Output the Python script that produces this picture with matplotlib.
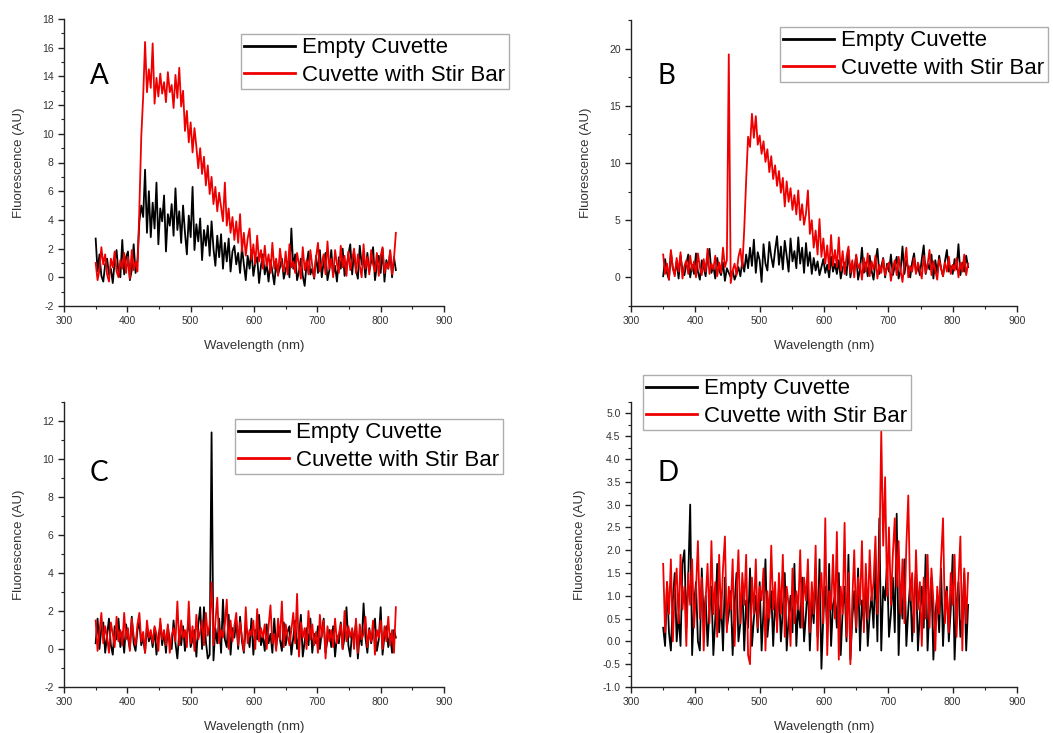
import numpy as np
import matplotlib
matplotlib.use("Agg")
import matplotlib.pyplot as plt
from matplotlib.ticker import MultipleLocator

# ---- data (3 nm spacing, 350-824 nm) ----
a_empty = [2.7, 0.4, 1.6, 0.1, -0.3, 0.9, 1.3, 0.2, 0.6, -0.4, 1.1, 1.9, 0.3, 0.0, 2.6,
           0.2, 1.4, 1.8, -0.2, 0.5, 2.3, 0.3, 1.2, 3.9, 5.0, 4.2, 7.5, 3.1, 6.0, 2.8,
           5.2, 3.4, 6.6, 2.3, 4.8, 3.9, 5.7, 1.8, 4.4, 3.6, 5.1, 2.9, 6.2, 3.3, 4.6,
           2.4, 5.0, 3.1, 1.6, 4.3, 2.8, 6.3, 1.9, 3.7, 2.5, 4.1, 1.2, 3.3, 2.2, 3.6,
           1.5, 3.9, 2.0, 0.8, 2.9, 1.4, 3.0, 0.6, 2.4, 1.1, 2.7, 0.4, 1.8, 2.2, 0.9,
           1.7, 0.3, 2.1, 0.9, -0.2, 1.5, 0.6, 1.9, 0.1, 1.0, 1.4, -0.4, 0.8, 1.6, 0.2,
           0.9, -0.3, 1.2, 0.4, -0.5, 1.0, 0.2, 0.7, 1.3, -0.1, 0.5, 1.1, 0.0, 3.4, 0.6,
           1.6, -0.2, 0.4, 1.3, 0.1, -0.6, 0.9, 1.8, 0.2, 0.6, -0.1, 1.5, 0.3, 1.9, 0.0,
           1.1, 1.7, -0.2, 0.5, 1.9, 0.2, 0.8, -0.3, 1.4, 0.6, 2.0, 0.1, 0.7, 1.6, 2.3,
           0.2, 1.8, 0.5, -0.1, 2.2, 0.9, 1.3, 0.0, 1.7, 0.4, 1.1, 2.1, -0.2, 0.8, 1.5,
           0.3, 2.0, -0.3, 1.2, 0.6, 1.8, 0.0, 1.4, 0.5]
a_stir = [1.0, -0.2, 0.5, 2.1, 0.9, 1.6, 0.2, -0.3, 1.3, 0.7, 1.8, 0.4, 0.0, 1.2, 0.6,
          1.7, 0.3, 1.4, -0.1, 1.9, 0.5, 1.1, 0.4, 4.8, 9.8, 12.6, 16.4, 12.9, 14.5, 13.2,
          16.3, 12.1, 13.9, 12.6, 14.2, 12.8, 13.6, 12.2, 14.3, 12.9, 13.4, 11.8, 14.1, 12.5, 14.6,
          11.9, 13.0, 10.2, 11.6, 9.4, 10.8, 8.7, 10.4, 9.1, 7.6, 9.0, 7.2, 8.4, 6.4, 7.8,
          5.8, 7.0, 5.1, 6.3, 4.6, 5.9, 4.9, 3.9, 6.6, 3.6, 4.8, 3.1, 4.2, 2.6, 3.9,
          2.4, 4.4, 1.8, 3.1, 1.5, 2.7, 3.4, 1.2, 2.3, 0.9, 2.9, 1.1, 1.9, 0.6, 2.2,
          0.8, 1.6, 0.3, 2.4, 0.6, 1.3, 0.1, 2.0, 0.9, 0.4, 1.8, 0.2, 2.3, 0.7, 1.1,
          0.3, 1.7, 0.9, -0.1, 2.1, 0.5, 1.2, 0.2, 1.9, 0.8, 0.0, 1.4, 2.4, 0.4, 1.0,
          1.6, 0.2, 2.5, 0.6, 1.3, 0.0, 1.9, 0.9, 0.3, 2.2, 0.7, 1.5, 0.1, 1.8, 0.5,
          1.2, 2.0, 0.3, 1.6, 0.8, 0.0, 2.3, 0.6, 1.4, 0.2, 1.9, 0.9, 0.4, 1.7, 0.1,
          1.5, 2.1, 0.3, 1.0, 0.6, 1.9, 0.2, 1.3, 3.1]

b_empty = [0.1, 1.6, 0.4, -0.2, 2.2, 0.8, 0.3, 1.4, -0.1, 1.9, 0.6, 0.2, 1.2, 2.0, 0.0,
           1.1, 0.3, 2.1, 0.5, -0.2, 1.5, 0.9, 0.1, 1.8, 2.5, 0.4, 1.0, -0.1, 1.7, 0.6,
           0.2, 1.3, -0.3, 0.8, 0.4, 0.0, 0.6, -0.2, 0.3, 0.9, 0.1, 1.4, 0.5, 2.0, 0.8,
           2.6, 1.0, 3.3, 0.4, 2.2, 1.5, -0.4, 2.9, 1.2, 0.6, 3.1, 1.8, 0.9, 2.4, 3.6,
           1.1, 2.7, 0.7, 3.2, 1.9, 0.5, 3.4, 1.4, 2.3, 0.8, 3.5, 1.2, 2.6, 0.4, 3.0,
           1.0, 2.2, 0.3, 1.7, 0.6, 1.4, 0.2, 0.9, 1.6, 0.4, 1.1, 0.0, 1.8, 0.5, 1.2,
           0.3, 1.5, -0.1, 0.8, 1.3, 0.2, 2.4, 0.0, 1.1, 0.6, 1.9, -0.2, 0.7, 2.6, 0.4,
           1.3, 0.1, 1.9, 0.6, -0.2, 1.4, 2.5, 0.3, 0.9, 1.7, 0.0, 1.2, 0.5, 2.0, 0.2,
           1.0, 1.8, -0.1, 0.6, 2.7, 0.3, 1.5, 0.8, 0.0, 1.3, 2.1, 0.4, 1.0, 0.2, 1.6,
           2.8, 0.3, 1.2, 0.7, 2.0, -0.1, 1.5, 0.4, 1.9, 0.8, 0.1, 1.4, 2.4, 0.5, 1.0,
           0.3, 1.6, 0.7, 2.9, 0.2, 1.3, 0.5, 1.9, 0.9]
b_stir = [2.0, 0.3, 1.2, -0.2, 2.4, 0.8, 0.1, 1.7, 0.5, 2.2, -0.1, 1.0, 1.5, 0.3, 1.9,
          0.6, 1.4, 0.0, 2.1, 0.9, 0.2, 1.6, 0.5, 2.5, 0.3, 1.2, 0.7, 1.9, 0.1, 1.3,
          0.4, 2.6, 0.9, 1.5, 19.5, -0.5, 0.6, 1.2, 0.2, 1.8, 2.5, 0.9, 4.2, 8.5, 12.3,
          11.4, 14.3, 12.2, 14.1, 11.6, 12.4, 10.8, 11.9, 10.1, 11.2, 9.2, 10.6, 8.6, 9.8, 8.0,
          9.3, 7.4, 8.7, 6.2, 8.4, 6.6, 7.8, 5.9, 7.2, 5.5, 7.6, 5.0, 6.4, 4.6, 5.6,
          7.6, 3.8, 5.0, 2.6, 4.1, 2.0, 5.1, 1.8, 3.4, 1.2, 2.8, 0.7, 3.7, 1.0, 2.4,
          0.9, 3.5, 0.6, 2.3, 0.3, 1.8, 2.7, 0.4, 1.5, 0.0, 2.0, 0.8, 1.2, -0.2, 1.7,
          0.5, 2.1, 0.1, 1.4, 0.7, 1.9, -0.1, 1.1, 0.4, 1.6, 0.2, 0.9, 1.3, -0.3, 0.8,
          1.5, 0.2, 1.8, 0.6, -0.4, 1.2, 2.6, 0.0, 1.0, 0.5, 1.7, 0.3, 1.3, 0.7, -0.1,
          1.9, 0.4, 1.1, 2.4, 0.2, 1.4, 0.6, -0.2, 1.6, 0.8, 0.1, 1.3, 0.5, 1.8, 0.3,
          1.1, 0.6, 1.7, 0.0, 1.3, 0.5, 2.0, 0.2, 1.2]

c_empty = [0.3, 1.6, 0.0, 1.1, 1.4, -0.2, 0.7, 1.6, 0.2, -0.3, 1.2, 0.5, 1.6, 0.1, 0.9,
           -0.2, 1.3, 0.6, 0.0, 1.7, 0.3, -0.1, 1.0, 1.4, 0.2, 0.6, -0.2, 1.2, 0.4, 0.8,
           0.1, 1.1, -0.3, 0.6, 1.3, 0.2, 0.9, -0.2, 1.2, 0.4, 0.0, 1.5, 0.3, -0.5, 0.9,
           0.2, 1.2, -0.1, 0.7, 1.6, 0.1, 0.5, 1.0, -0.4, 1.3, 2.2, 0.0, 2.2, 0.4, -0.5,
           -0.3, 11.4, -0.6, 1.1, 0.3, 1.6, -0.2, 2.6, 0.5, 0.1, 1.8, -0.3, 1.1, 0.6, 1.5,
           0.0, 1.7, 0.4, -0.2, 1.2, 0.8, 0.1, 1.6, -0.3, 1.0, 0.5, 1.8, 0.2, 0.7, -0.1,
           1.3, 0.3, 0.8, -0.2, 1.6, 0.1, 1.0, 0.5, -0.1, 1.4, 0.2, 0.9, 1.2, -0.3, 0.6,
           1.5, 0.0, 0.7, 1.8, -0.4, 0.4, 1.1, 0.2, 1.6, -0.2, 0.8, 0.3, 1.2, 0.0, 0.9,
           1.6, -0.2, 0.5, 1.0, 0.1, 1.2, -0.4, 0.7, 0.3, 1.4, 0.0, 0.6, 2.2, 0.2, -0.4,
           1.0, 0.4, 1.4, -0.5, 0.8, 0.2, 2.4, 0.6, -0.2, 1.1, 0.3, 0.9, 1.6, -0.1, 0.5,
           2.2, -0.3, 0.7, 1.2, 0.1, 0.8, -0.2, 1.0, 0.6]
c_stir = [1.5, -0.1, 0.9, 1.9, 0.3, 1.2, 0.6, -0.2, 1.4, 0.8, 0.1, 1.7, 0.4, 1.0, 0.2,
          1.9, 0.5, 1.1, -0.1, 1.6, 0.7, 0.2, 1.3, 1.9, 0.4, 0.9, -0.2, 1.5, 0.6, 1.0,
          0.3, 1.2, 0.8, -0.1, 1.6, 0.5, 1.0, 0.2, 1.3, -0.2, 0.7, 1.1, 0.4, 2.5, 0.2,
          1.5, 0.6, 1.0, 0.1, 2.5, 0.3, 1.2, -0.1, 1.8, 0.5, 0.9, 1.5, 0.2, 1.9, 0.7,
          1.3, 3.5, 0.2, 1.4, 2.7, 0.3, 1.0, 0.6, 1.3, 2.6, 0.0, 1.5, 0.4, 1.2, 1.9,
          0.2, 1.4, 0.6, -0.1, 2.2, 0.3, 1.0, 0.7, 1.5, 0.0, 2.1, 0.4, 1.1, 0.6, 1.3,
          0.0, 1.2, 2.3, 0.3, 0.8, -0.1, 1.6, 0.5, 2.5, 0.1, 1.3, 0.7, 0.2, 1.0, 1.9,
          0.3, 2.9, -0.4, 1.4, 0.6, 1.1, 0.0, 2.0, 0.5, 1.3, 0.2, 0.9, -0.2, 1.8, 0.6,
          1.5, -0.5, 1.2, 0.4, 1.0, 0.1, 1.6, 0.3, 0.8, 1.3, 0.0, 2.0, 0.4, 1.2, 0.6,
          1.1, 0.0, 1.6, -0.2, 1.3, 0.5, 0.8, 1.7, 0.1, 1.0, 0.4, 1.5, -0.3, 1.0, 0.6,
          1.5, 0.0, 1.2, 0.4, 1.7, 0.2, 1.0, -0.2, 2.2]

d_empty = [0.3, -0.1, 1.3, 0.2, -0.2, 0.9, 1.5, 0.0, 0.6, -0.1, 1.7, 2.0, 0.3, 1.4, 3.0,
           -0.3, 0.8, 1.3, 0.0, -0.2, 1.6, 0.4, 1.0, -0.1, 0.7, 1.2, -0.3, 0.5, 1.7, 0.2,
           0.9, -0.2, 1.4, 0.3, 0.6, 1.1, -0.3, 0.8, 1.5, 0.0, 0.4, 1.3, -0.2, 0.9, 0.3,
           1.6, -0.1, 0.5, 1.0, 0.2, 1.3, -0.2, 0.7, 1.8, 0.1, 0.6, 1.1, -0.1, 0.9, 0.4,
           1.2, 0.0, 0.7, 1.5, -0.2, 0.5, 1.0, 0.2, 1.7, -0.1, 0.8, 0.3, 1.4, 0.0, 0.6,
           1.3, -0.2, 0.9, 0.4, 1.6, 0.1, 1.8, -0.6, 0.6, 1.2, 0.2, 1.7, -0.1, 0.8, 1.0,
           0.3, 1.5, -0.3, 0.7, 1.2, 0.0, 1.9, -0.4, 0.5, 1.1, 0.2, 1.6, -0.2, 0.9, 0.4,
           1.3, -0.1, 0.6, 1.0, 0.3, 1.7, 0.0, 2.7, -0.2, 1.2, 0.9, 1.7, 0.1, 0.6, 1.4,
           0.2, 2.8, -0.3, 1.1, 0.5, 1.8, -0.1, 0.7, 1.3, 0.0, 0.9, 1.6, -0.2, 0.6, 1.2,
           0.3, 1.9, -0.2, 0.8, 1.4, -0.4, 0.6, 1.0, 0.2, 1.6, -0.1, 0.9, 1.2, 0.0, 0.7,
           1.9, -0.4, 0.8, 1.3, 0.1, 0.6, 1.5, -0.2, 0.8]
d_stir = [1.7, 0.2, 1.3, 0.6, 1.8, 0.0, 1.1, 1.6, 0.4, 1.9, 0.7, 1.2, -0.1, 1.5, 0.8,
          1.8, 0.3, 1.1, 2.2, 0.5, 1.4, -0.2, 0.9, 1.7, 0.4, 2.2, 0.6, 1.3, 0.1, 1.9,
          0.5, 1.6, 2.3, 0.2, 1.2, 0.7, 1.8, -0.1, 1.0, 2.0, 0.4, 1.5, 0.8, 1.9, -0.3,
          -0.5, 1.4, 0.6, 1.8, 0.3, 1.2, 0.9, 1.6, -0.2, 1.1, 0.5, 2.1, 0.7, 1.3, 0.2,
          1.5, 0.6, 1.9, 0.1, 1.2, 0.8, -0.1, 1.6, 0.4, 1.1, 0.7, 2.0, 0.3, 1.4, 0.9,
          1.8, 0.2, 1.3, 0.6, 2.1, -0.2, 1.0, 1.5, 0.4, 2.7, -0.3, 1.1, 0.7, 1.9, 0.5,
          2.4, -0.4, 1.2, 0.6, 2.6, 0.1, 1.5, -0.5, 0.9, 2.0, 0.3, 1.4, 0.8, 2.2, 0.2,
          1.7, 0.5, 2.0, 0.9, 1.3, 2.3, 0.6, 1.8, 4.6, 2.1, 3.6, 1.0, 2.5, 0.8, 1.9,
          2.7, 1.2, 2.2, 0.6, 1.8, 0.4, 2.1, 3.2, 0.9, 1.5, 0.2, 2.0, 0.7, 1.3, -0.1,
          1.4, 0.5, 1.9, 0.3, 1.6, 0.9, -0.2, 1.2, 0.6, 1.8, 2.7, 0.4, 1.1, 0.2, 1.5,
          0.8, 1.9, 0.1, 1.3, 2.3, -0.2, 1.6, 0.4, 1.5]

series_labels = ["Empty Cuvette", "Cuvette with Stir Bar"]
panel_letters = ["A", "B", "C", "D"]
x_label = "Wavelength (nm)"
y_label = "Fluorescence (AU)"
wl_start, wl_end = 350, 824

panels = [
    (a_empty, a_stir),
    (b_empty, b_stir),
    (c_empty, c_stir),
    (d_empty, d_stir),
]

# ---- layout ----
W, H = 1053, 733
fig = plt.figure(figsize=(W / 100, H / 100), dpi=100)
plt.rcParams['font.family'] = ['Liberation Sans', 'DejaVu Sans']


def px_rect(l, r, t, b):
    return [l / W, 1 - b / H, (r - l) / W, (b - t) / H]


rects = [px_rect(64, 444, 19, 306), px_rect(631, 1017, 20, 306),
         px_rect(64, 444, 402, 687), px_rect(631, 1017, 402, 687)]
ylims = [(-2, 18), (-2.5, 22.5), (-2, 13), (-1, 5.25)]
ymajor = [2, 5, 2, 0.5]
yminor = [1, 2.5, 1, 0.25]
yfmt = ["{:.0f}", "{:.0f}", "{:.0f}", "{:.1f}"]
legend_pos = [(241, 34), (780, 27), (235, 419), (643, 375)]
letter_pos = [(90, 76), (657, 76), (90, 473), (657, 473)]

tick_color = "#333333"
for i, (empty, stir) in enumerate(panels):
    ax = fig.add_axes(rects[i])
    xe = np.linspace(wl_start, wl_end, len(empty))
    xs = np.linspace(wl_start, wl_end, len(stir))
    ax.plot(xe, empty, color="black", lw=1.3, label=series_labels[0])
    ax.plot(xs, stir, color="#ee0000", lw=1.3, label=series_labels[1])
    ax.set_xlim(300, 900)
    ax.set_ylim(*ylims[i])
    ax.xaxis.set_major_locator(MultipleLocator(100))
    ax.xaxis.set_minor_locator(MultipleLocator(50))
    ax.yaxis.set_major_locator(MultipleLocator(ymajor[i]))
    ax.yaxis.set_minor_locator(MultipleLocator(yminor[i]))
    f = yfmt[i]
    ax.yaxis.set_major_formatter(plt.FuncFormatter(lambda v, p, f=f: f.format(v)))
    for s in ["top", "right"]:
        ax.spines[s].set_visible(False)
    for s in ["left", "bottom"]:
        ax.spines[s].set_color("#222222")
        ax.spines[s].set_linewidth(1.0)
    ax.tick_params(which="major", direction="out", length=4, width=1,
                   colors="#222222", labelsize=7.5, labelcolor=tick_color, pad=3.5)
    ax.tick_params(which="minor", direction="out", length=2, width=0.8,
                   colors="#222222")
    ax.set_xlabel(x_label, fontsize=9.5, color=tick_color, labelpad=10)
    ax.set_ylabel(y_label, fontsize=9.5, color=tick_color, labelpad=12)

    lx, ly = legend_pos[i]
    leg = ax.legend(loc="upper left", bbox_to_anchor=(lx / W, 1 - ly / H),
                    bbox_transform=fig.transFigure, borderaxespad=0,
                    fontsize=16, handlelength=2.3, handletextpad=0.3,
                    borderpad=0.15, labelspacing=0.3, frameon=True,
                    fancybox=False)
    leg.get_frame().set_edgecolor("#999999")
    leg.get_frame().set_linewidth(1.0)
    for line in leg.get_lines():
        line.set_linewidth(2.0)

    tx, ty = letter_pos[i]
    fig.text(tx / W, 1 - ty / H, panel_letters[i], fontsize=20,
             family=["Lato", "DejaVu Sans"], ha="left", va="center",
             color="black")

fig.savefig("out.png", dpi=100)
